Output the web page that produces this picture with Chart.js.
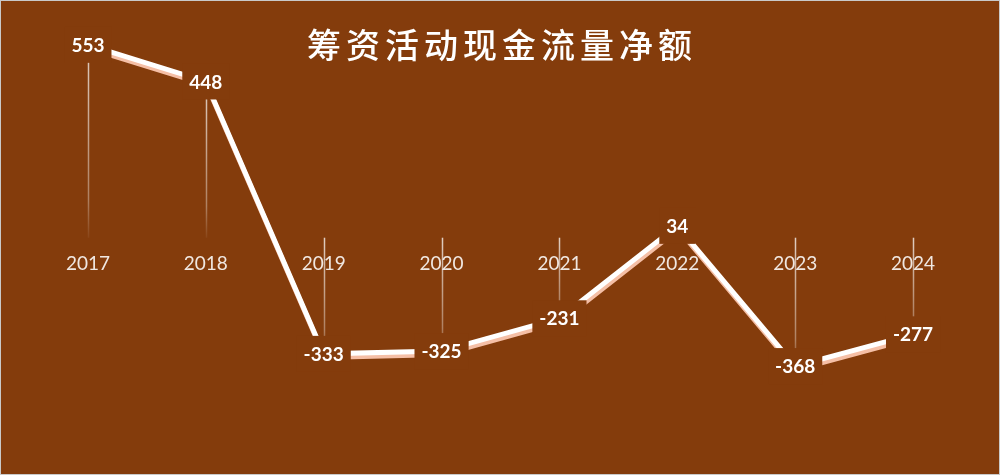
<!DOCTYPE html>
<html>
<head>
<meta charset="utf-8">
<script src="https://cdn.jsdelivr.net/npm/chart.js@4"></script>
<style>
  html, body { margin: 0; padding: 0; background: #843C0C; }
  #wrap { position: relative; width: 1000px; height: 475px; }
</style>
</head>
<body>
<div id="wrap"><canvas id="cashChart"></canvas></div>
<script>
// Chart data
const chartTitle = '筹资活动现金流量净额';
const years = ['2017', '2018', '2019', '2020', '2021', '2022', '2023', '2024'];
const netCash = [553, 448, -333, -325, -231, 34, -368, -277];

const BG = '#843C0C';

// Title, border, drop lines, label boxes
const decorPlugin = {
    id: 'decor',
    beforeDraw(chart) {
        const ctx = chart.ctx;
        ctx.save();
        ctx.fillStyle = BG;
        ctx.fillRect(0, 0, chart.width, chart.height);
        ctx.restore();
    },
    afterDraw(chart) {
        const ctx = chart.ctx;
        ctx.save();
        ctx.strokeStyle = '#c9c9c9';
        ctx.lineWidth = 1;
        ctx.strokeRect(0.5, 0.5, chart.width - 1, chart.height - 1);
        ctx.fillStyle = '#ffffff';
        ctx.font = '500 34px "Noto Sans CJK SC", sans-serif';
        ctx.letterSpacing = '5px';
        ctx.textAlign = 'center';
        ctx.textBaseline = 'middle';
        ctx.fillText(chartTitle, chart.width / 2 + 2, 45);
        ctx.restore();
    },
    beforeDatasetsDraw(chart) {
        // vertical drop lines from each point to zero
        const ctx = chart.ctx;
        const yScale = chart.scales.y;
        const zeroY = yScale.getPixelForValue(0);
        const meta = chart.getDatasetMeta(0);
        ctx.save();
        meta.data.forEach(pt => {
            const top = Math.min(pt.y, zeroY);
            const bottom = Math.max(pt.y, zeroY);
            if (bottom - top < 2) return;
            const grad = ctx.createLinearGradient(0, top, 0, bottom);
            grad.addColorStop(0, 'rgba(255,255,255,0.75)');
            grad.addColorStop(0.8, 'rgba(255,255,255,0.35)');
            grad.addColorStop(1, 'rgba(255,255,255,0.05)');
            ctx.strokeStyle = grad;
            ctx.lineWidth = 1.5;
            ctx.beginPath();
            ctx.moveTo(Math.round(pt.x) + 0.5, top);
            ctx.lineTo(Math.round(pt.x) + 0.5, bottom);
            ctx.stroke();
        });
        ctx.restore();
    },
    beforeDatasetDraw(chart) {
        const ctx = chart.ctx;
        ctx.save();
        ctx.shadowColor = '#f5bfa6';
        ctx.shadowOffsetX = 1;
        ctx.shadowOffsetY = 3.5;
        ctx.shadowBlur = 0;
    },
    afterDatasetDraw(chart) {
        chart.ctx.restore();
    },
    afterDatasetsDraw(chart) {
        // value labels centred on the points, boxed in the background colour
        const ctx = chart.ctx;
        const meta = chart.getDatasetMeta(0);
        ctx.save();
        ctx.font = 'bold 19px Lato, sans-serif';
        ctx.textAlign = 'center';
        ctx.textBaseline = 'middle';
        meta.data.forEach((pt, i) => {
            const txt = String(netCash[i]);
            const w = ctx.measureText(txt).width + 14;
            const h = 36;
            ctx.fillStyle = BG;
            ctx.fillRect(pt.x - w / 2, pt.y - h / 2, w, h);
            ctx.fillStyle = '#ffffff';
            ctx.fillText(txt, pt.x, pt.y + 1);
        });
        ctx.restore();
    }
};

new Chart(document.getElementById('cashChart'), {
    type: 'line',
    data: {
        labels: years,
        datasets: [{
            label: chartTitle,
            data: netCash,
            borderColor: '#ffffff',
            borderWidth: 5,
            borderCapStyle: 'butt',
            pointRadius: 0,
            pointHoverRadius: 0,
            tension: 0,
            fill: false
        }]
    },
    options: {
        responsive: true,
        maintainAspectRatio: false,
        animation: false,
        layout: {
            padding: { left: 29, right: 28, top: 11, bottom: 28 }
        },
        plugins: {
            legend: { display: false },
            title: { display: false },
            tooltip: { enabled: false }
        },
        scales: {
            x: {
                position: { y: 0 },
                offset: true,
                grid: { display: false, drawTicks: false },
                border: { display: false },
                ticks: {
                    color: 'rgba(255,255,255,0.88)',
                    font: { family: 'Lato', size: 19 },
                    padding: 15,
                    maxRotation: 0
                }
            },
            y: {
                display: false,
                min: -600,
                max: 650
            }
        }
    },
    plugins: [decorPlugin]
});
</script>
</body>
</html>
